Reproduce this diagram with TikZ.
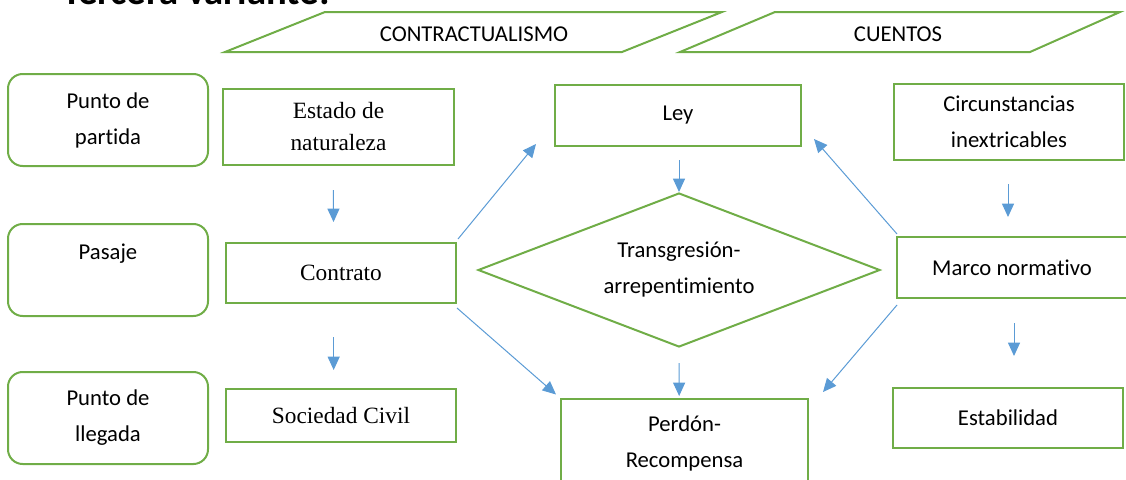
\documentclass[tikz,border=0pt]{standalone}
\usepackage{fontspec}
\setmainfont{Carlito}[Ligatures=NoCommon]
\newfontfamily\timesfont{Liberation Serif}
\usetikzlibrary{shapes.geometric}
\usetikzlibrary{arrows.meta}

\definecolor{boxgreen}{HTML}{70AD47}
\definecolor{arrowblue}{HTML}{5B9BD5}

\tikzset{
  stage/.style={draw=boxgreen, line width=1.5pt, rounded corners=11pt,
    minimum width=150pt, minimum height=69pt, align=center},
  concept/.style={draw=boxgreen, line width=1.5pt, inner sep=0pt, align=center},
  serif/.style={font=\timesfont\fontsize{17.5}{24}\selectfont},
  header/.style={draw=boxgreen, line width=1.5pt},
  flow/.style={draw=arrowblue, line width=0.75pt, -{Triangle[length=10pt,width=9pt]}}
}

\begin{document}
\begin{tikzpicture}[x=0.75pt, y=-0.75pt, font=\fontsize{17}{27}\selectfont]
  \useasboundingbox (0,0) rectangle (1126,479);

  % title, cut by the page edge
  \node[anchor=base west, inner sep=0pt, font=\fontsize{29}{32}\selectfont\bfseries] (titulo) at (62,4) {Tercera variante:};

  % column headers
  \draw[header] (225,52) -- (325,12) -- (722,12) -- (622,52) -- cycle;
  \node (contractualismo) at (474,34) {CONTRACTUALISMO};
  \draw[header] (680,52) -- (775,12) -- (1120,12) -- (1030,52) -- cycle;
  \node (cuentos) at (898,34) {CUENTOS};

  % stages
  \node[stage] (partida) at (108,120) {Punto de\\partida};
  \node[stage] (pasaje) at (108,270) {Pasaje\\ \mbox{}};
  \node[stage] (llegada) at (108,418) {Punto de\\llegada};

  % contractualismo
  \node[concept, serif, minimum width=173.25pt, minimum height=57pt] (estado) at (338.5,127) {Estado de\\naturaleza};
  \node[concept, serif, minimum width=172.5pt, minimum height=45pt] (contrato) at (341,273) {Contrato};
  \node[concept, serif, minimum width=172.5pt, minimum height=39.75pt] (sociedad) at (341,415.5) {Sociedad Civil};

  % centre
  \node[concept, minimum width=184.5pt, minimum height=45.75pt] (ley) at (678,115.5) {Ley};
  \node[concept, diamond, aspect=2.6, minimum width=301.5pt, minimum height=115.5pt] (transgresion) at (679,270) {Transgresión-\\arrepentimiento};
  \node[concept, minimum width=185.25pt, minimum height=66.75pt] (perdon) at (684.5,443.5) {Perdón-\\Recompensa};

  % cuentos
  \node[concept, minimum width=172.5pt, minimum height=57pt] (circunstancias) at (1009,122) {Circunstancias\\inextricables};
  \node[concept, minimum width=172.5pt, minimum height=45.75pt] (marco) at (1012,267.5) {Marco normativo};
  \node[concept, minimum width=172.5pt, minimum height=45pt] (estabilidad) at (1008,418) {Estabilidad};

  % vertical arrows
  \draw[flow, shorten <=18pt, shorten >=15pt] ([xshift=-4pt]estado.south) -- ([xshift=-5.5pt]contrato.north);
  \draw[flow, shorten <=24.75pt, shorten >=13.5pt] ([xshift=-5.5pt]contrato.south) -- ([xshift=-5.5pt]sociedad.north);
  \draw[flow, shorten <=9.75pt] ([xshift=0.75pt]ley.south) -- (transgresion.north);
  \draw[flow, shorten <=11.25pt, shorten >=1.5pt] (transgresion.south) -- ([xshift=-4pt]perdon.north);
  \draw[flow, shorten <=17.25pt, shorten >=14.25pt] ([xshift=-0.75pt]circunstancias.south) -- ([xshift=-3pt]marco.north);
  \draw[flow, shorten <=18pt, shorten >=23.25pt] ([xshift=1.5pt]marco.south) -- ([xshift=4.5pt]estabilidad.north);

  % diagonal arrows
  \draw[flow] ([shift={(1,-3)}]contrato.north east) -- ([shift={(-18,-3)}]ley.south west);
  \draw[flow, shorten >=4pt] ([shift={(0,4)}]contrato.south east) -- (perdon.north west);
  \draw[flow] ([shift={(1,-2)}]marco.north west) -- ([shift={(12,-8)}]ley.south east);
  \draw[flow] ([shift={(1,6)}]marco.south west) -- ([shift={(14,-6)}]perdon.north east);
\end{tikzpicture}
\end{document}
